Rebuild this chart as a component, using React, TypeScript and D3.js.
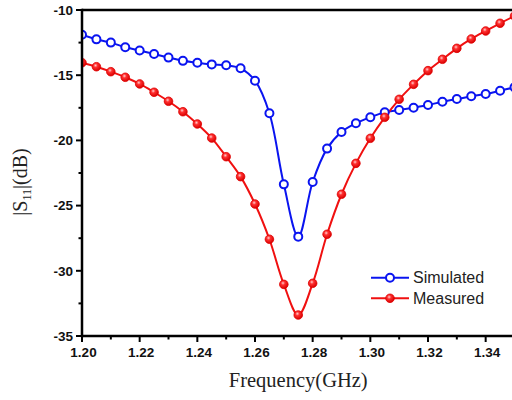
import * as d3 from 'd3';
import React from 'react';

const frequency = [
  1.2, 1.205, 1.21, 1.215, 1.22, 1.225, 1.23, 1.235, 1.24, 1.245, 1.25, 1.255,
  1.26, 1.265, 1.27, 1.275, 1.28, 1.285, 1.29, 1.295, 1.3, 1.305, 1.31, 1.315,
  1.32, 1.325, 1.33, 1.335, 1.34, 1.345, 1.35,
];

const simulated = [
  -11.9, -12.25, -12.5, -12.86, -13.1, -13.37, -13.65, -13.9, -14.04, -14.17,
  -14.24, -14.47, -15.42, -17.92, -23.37, -27.38, -23.19, -20.63, -19.36,
  -18.69, -18.23, -17.85, -17.67, -17.49, -17.29, -17.03, -16.83, -16.62,
  -16.44, -16.19, -15.93,
];

const measured = [
  -14.04, -14.35, -14.73, -15.16, -15.67, -16.31, -17.0, -17.8, -18.74, -19.82,
  -21.25, -22.78, -24.88, -27.58, -31.04, -33.39, -30.96, -27.2, -24.13, -21.76,
  -19.84, -18.23, -16.85, -15.7, -14.65, -13.78, -12.94, -12.22, -11.61, -11.02,
  -10.46,
];

const xTicks = [1.2, 1.22, 1.24, 1.26, 1.28, 1.3, 1.32, 1.34];
const xMinorTicks = [1.21, 1.23, 1.25, 1.27, 1.29, 1.31, 1.33, 1.35];
const yTicks = [-35, -30, -25, -20, -15, -10];
const yMinorTicks = [-32.5, -27.5, -22.5, -17.5, -12.5];

const BLUE = '#0a14f0';
const RED = '#f01010';

const left = 82;
const right = 514.5;
const top = 10;
const bottom = 336;

export default function App() {
  const x = d3.scaleLinear().domain([1.2, 1.35]).range([left, right]);
  const y = d3.scaleLinear().domain([-35, -10]).range([bottom, top]);

  const line = d3
    .line<number>()
    .x((d, i) => x(frequency[i]))
    .y(d => y(d))
    .curve(d3.curveCatmullRom.alpha(0.5));

  const tickFont = 'Arial, "Liberation Sans", sans-serif';

  return (
    <div style={{ position: 'fixed', left: 0, top: 0 }}>
      <svg width={512} height={400} style={{ display: 'block', background: '#fff' }}>
        <defs>
          <radialGradient id="redBall" cx="40%" cy="35%" r="65%">
            <stop offset="0%" stopColor="#ffd0d0" />
            <stop offset="35%" stopColor="#ff3030" />
            <stop offset="100%" stopColor="#d80000" />
          </radialGradient>
          <clipPath id="plotClip">
            <rect x={left} y={0} width={right - left + 6} height={bottom + 6} />
          </clipPath>
        </defs>

        {/* curves */}
        <g clipPath="url(#plotClip)">
          <path d={line(simulated) || ''} fill="none" stroke={BLUE} strokeWidth={2} />
          <path d={line(measured) || ''} fill="none" stroke={RED} strokeWidth={2} />
          {simulated.map((v, i) => (
            <circle
              key={'s' + i}
              cx={x(frequency[i])}
              cy={y(v)}
              r={4}
              fill="#fff"
              stroke={BLUE}
              strokeWidth={2}
            />
          ))}
          {measured.map((v, i) => (
            <circle
              key={'m' + i}
              cx={x(frequency[i])}
              cy={y(v)}
              r={4.3}
              fill="url(#redBall)"
              stroke="#e00000"
              strokeWidth={0.8}
            />
          ))}
        </g>

        {/* frame */}
        <line x1={left} x2={512} y1={top} y2={top} stroke="#000" strokeWidth={2.5} />
        <line x1={left} x2={512} y1={bottom} y2={bottom} stroke="#000" strokeWidth={2.5} />
        <line x1={left} x2={left} y1={top - 1.2} y2={bottom + 1.2} stroke="#000" strokeWidth={2.5} />

        {/* x ticks */}
        {xTicks.map(t => (
          <g key={'xt' + t}>
            <line x1={x(t)} x2={x(t)} y1={bottom} y2={bottom + 6} stroke="#000" strokeWidth={2} />
            <text
              x={x(t) + 1.5}
              y={357}
              textAnchor="middle"
              fontFamily={tickFont}
              fontWeight="bold"
              fontSize={13.5}
              fill="#111"
            >
              {t.toFixed(2)}
            </text>
          </g>
        ))}
        {xMinorTicks.map(t => (
          <line key={'xm' + t} x1={x(t)} x2={x(t)} y1={bottom} y2={bottom + 3.5} stroke="#000" strokeWidth={2} />
        ))}

        {/* y ticks */}
        {yTicks.map(t => (
          <g key={'yt' + t}>
            <line x1={left - 6} x2={left} y1={y(t)} y2={y(t)} stroke="#000" strokeWidth={2} />
            <text
              x={73}
              y={y(t)}
              dy="0.35em"
              textAnchor="end"
              fontFamily={tickFont}
              fontWeight="bold"
              fontSize={13.5}
              fill="#111"
            >
              {t}
            </text>
          </g>
        ))}
        {yMinorTicks.map(t => (
          <line key={'ym' + t} x1={left - 3.5} x2={left} y1={y(t)} y2={y(t)} stroke="#000" strokeWidth={2} />
        ))}

        {/* axis titles */}
        <text
          x={(left + right) / 2}
          y={387}
          textAnchor="middle"
          fontFamily='"Liberation Serif", "Times New Roman", serif'
          fontSize={20.5}
          fill="#222"
        >
          Frequency(GHz)
        </text>
        <text
          transform="translate(27,182) rotate(-90)"
          textAnchor="middle"
          fontFamily='"Liberation Serif", "Times New Roman", serif'
          fontSize={20}
          fill="#222"
        >
          |S
          <tspan fontSize={12} dy={4}>
            11
          </tspan>
          <tspan dy={-4}>|(dB)</tspan>
        </text>

        {/* legend */}
        <g fontFamily={tickFont} fontSize={16} fill="#222">
          <line x1={371} x2={409} y1={277.7} y2={277.7} stroke={BLUE} strokeWidth={2} />
          <circle cx={390} cy={277.7} r={4} fill="#fff" stroke={BLUE} strokeWidth={2} />
          <text x={413} y={277.7} dy="0.35em">
            Simulated
          </text>
          <line x1={371} x2={409} y1={298.3} y2={298.3} stroke={RED} strokeWidth={2} />
          <circle cx={390} cy={298.3} r={4.3} fill="url(#redBall)" stroke="#e00000" strokeWidth={0.8} />
          <text x={413} y={298.3} dy="0.35em">
            Measured
          </text>
        </g>
      </svg>
    </div>
  );
}
